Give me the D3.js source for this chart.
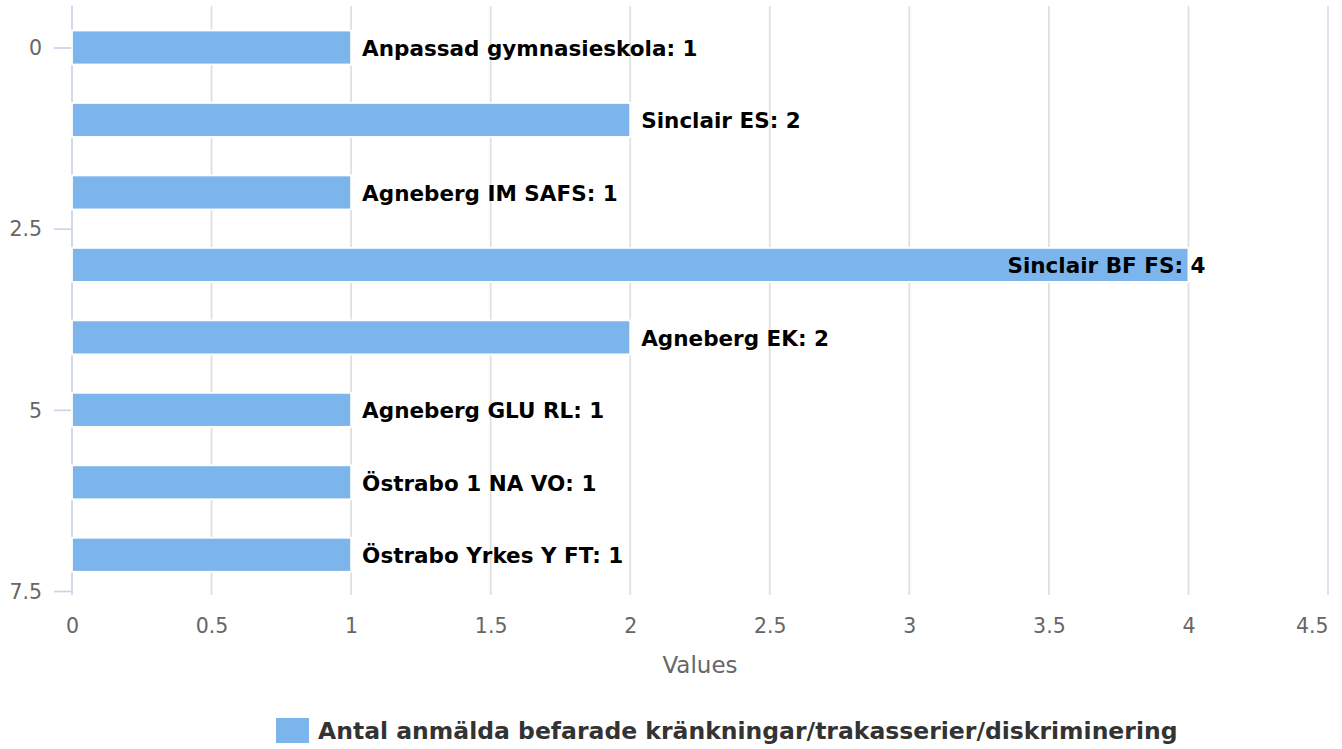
<!DOCTYPE html>
<html>
<head>
<meta charset="utf-8">
<script src="https://cdn.jsdelivr.net/npm/d3@7"></script>
<style>
  html, body { margin: 0; padding: 0; background: #fff; }
  svg { display: block; font-family: "DejaVu Sans", sans-serif; }
</style>
</head>
<body>
<div id="chart"></div>
<script>
  const categories = [
    "Anpassad gymnasieskola",
    "Sinclair ES",
    "Agneberg IM SAFS",
    "Sinclair BF FS",
    "Agneberg EK",
    "Agneberg GLU RL",
    "Östrabo 1 NA VO",
    "Östrabo Yrkes Y FT",
  ];
  const values = [1, 2, 1, 4, 2, 1, 1, 1];
  const seriesName = "Antal anmälda befarade kränkningar/trakasserier/diskriminering";
  const xTicks = [0, 0.5, 1, 1.5, 2, 2.5, 3, 3.5, 4, 4.5];
  const yTicks = [0, 2.5, 5, 7.5];
  const xTitle = "Values";

  const W = 1342, H = 749;
  const plotTop = 6, plotBottom = 595;
  const BAR_COLOR = "#7cb5ec";
  const fmt = (d) => String(d);

  const svg = d3.select("#chart").append("svg").attr("width", W).attr("height", H);

  const x = d3.scaleLinear().domain([0, 4.5]).range([72, 1328]);
  const y = d3.scaleLinear().domain([0, 7.5]).range([47.5, 591]);

  // vertical grid lines
  svg.append("g")
    .selectAll("line")
    .data(xTicks.filter((t) => t !== 0))
    .join("line")
    .attr("x1", (d) => x(d)).attr("x2", (d) => x(d))
    .attr("y1", plotTop).attr("y2", plotBottom)
    .attr("stroke", "#e0e0e0").attr("stroke-width", 1.8);

  // x tick labels (no axis line, as in the reference)
  const xAxis = d3.axisBottom(x).tickValues(xTicks).tickFormat(fmt).tickSize(0).tickPadding(0);
  const gx = svg.append("g").attr("transform", `translate(0,${plotBottom + 31})`).call(xAxis);
  gx.select(".domain").remove();
  gx.selectAll("text").attr("dy", "0.35em").attr("font-size", 20.5).attr("fill", "#666")
    .attr("font-family", "DejaVu Sans, sans-serif");
  // keep the last label inside the chart
  gx.selectAll(".tick").filter((d) => d === xTicks[xTicks.length - 1])
    .select("text").attr("text-anchor", "end");

  // y axis: line + ticks + labels
  const yAxis = d3.axisLeft(y).tickValues(yTicks).tickFormat(fmt).tickSize(18).tickPadding(12);
  const gy = svg.append("g").attr("transform", `translate(72,0)`).call(yAxis);
  gy.select(".domain").remove();
  gy.selectAll(".tick line").attr("stroke", "#ccd6eb").attr("stroke-width", 1.8);
  gy.selectAll("text").attr("font-size", 20.5).attr("fill", "#666")
    .attr("font-family", "DejaVu Sans, sans-serif").attr("dy", "0.35em");
  svg.append("line")
    .attr("x1", x(0)).attr("x2", x(0))
    .attr("y1", plotTop).attr("y2", plotBottom)
    .attr("stroke", "#ccd6eb").attr("stroke-width", 1.8);

  // bars
  const barH = 34;
  const rows = categories.map((c, i) => ({ name: c, value: values[i], i }));
  svg.append("g")
    .selectAll("rect")
    .data(rows)
    .join("rect")
    .attr("x", x(0))
    .attr("y", (d) => y(d.i) - barH / 2)
    .attr("width", (d) => x(d.value) - x(0))
    .attr("height", barH)
    .attr("fill", BAR_COLOR)
    .attr("stroke", "#fff")
    .attr("stroke-width", 1.8);

  // data labels, pulled back inside when they would run off the chart
  const labels = svg.append("g")
    .selectAll("text")
    .data(rows)
    .join("text")
    .attr("font-size", 21.5)
    .attr("font-weight", "bold")
    .attr("fill", "#000")
    .attr("dy", "0.35em")
    .attr("y", (d) => y(d.i) + 1)
    .text((d) => `${d.name}: ${d.value}`);
  labels.each(function (d) {
    const w = this.getComputedTextLength();
    let lx = x(d.value) + 11;
    if (lx + w > W - 10) lx = x(d.value) + 17 - w;
    d3.select(this).attr("x", lx);
  });

  // axis title
  svg.append("text")
    .attr("x", (x(0) + x(4.5)) / 2)
    .attr("y", 665)
    .attr("dy", "0.35em")
    .attr("text-anchor", "middle")
    .attr("font-size", 23)
    .attr("fill", "#666")
    .text(xTitle);

  // legend
  const lg = svg.append("g");
  lg.append("rect").attr("x", 276).attr("y", 718).attr("width", 33).attr("height", 25)
    .attr("fill", BAR_COLOR);
  lg.append("text").attr("x", 318).attr("y", 731).attr("dy", "0.35em")
    .attr("font-size", 23.5).attr("font-weight", "bold").attr("fill", "#333")
    .text(seriesName);
</script>
</body>
</html>
